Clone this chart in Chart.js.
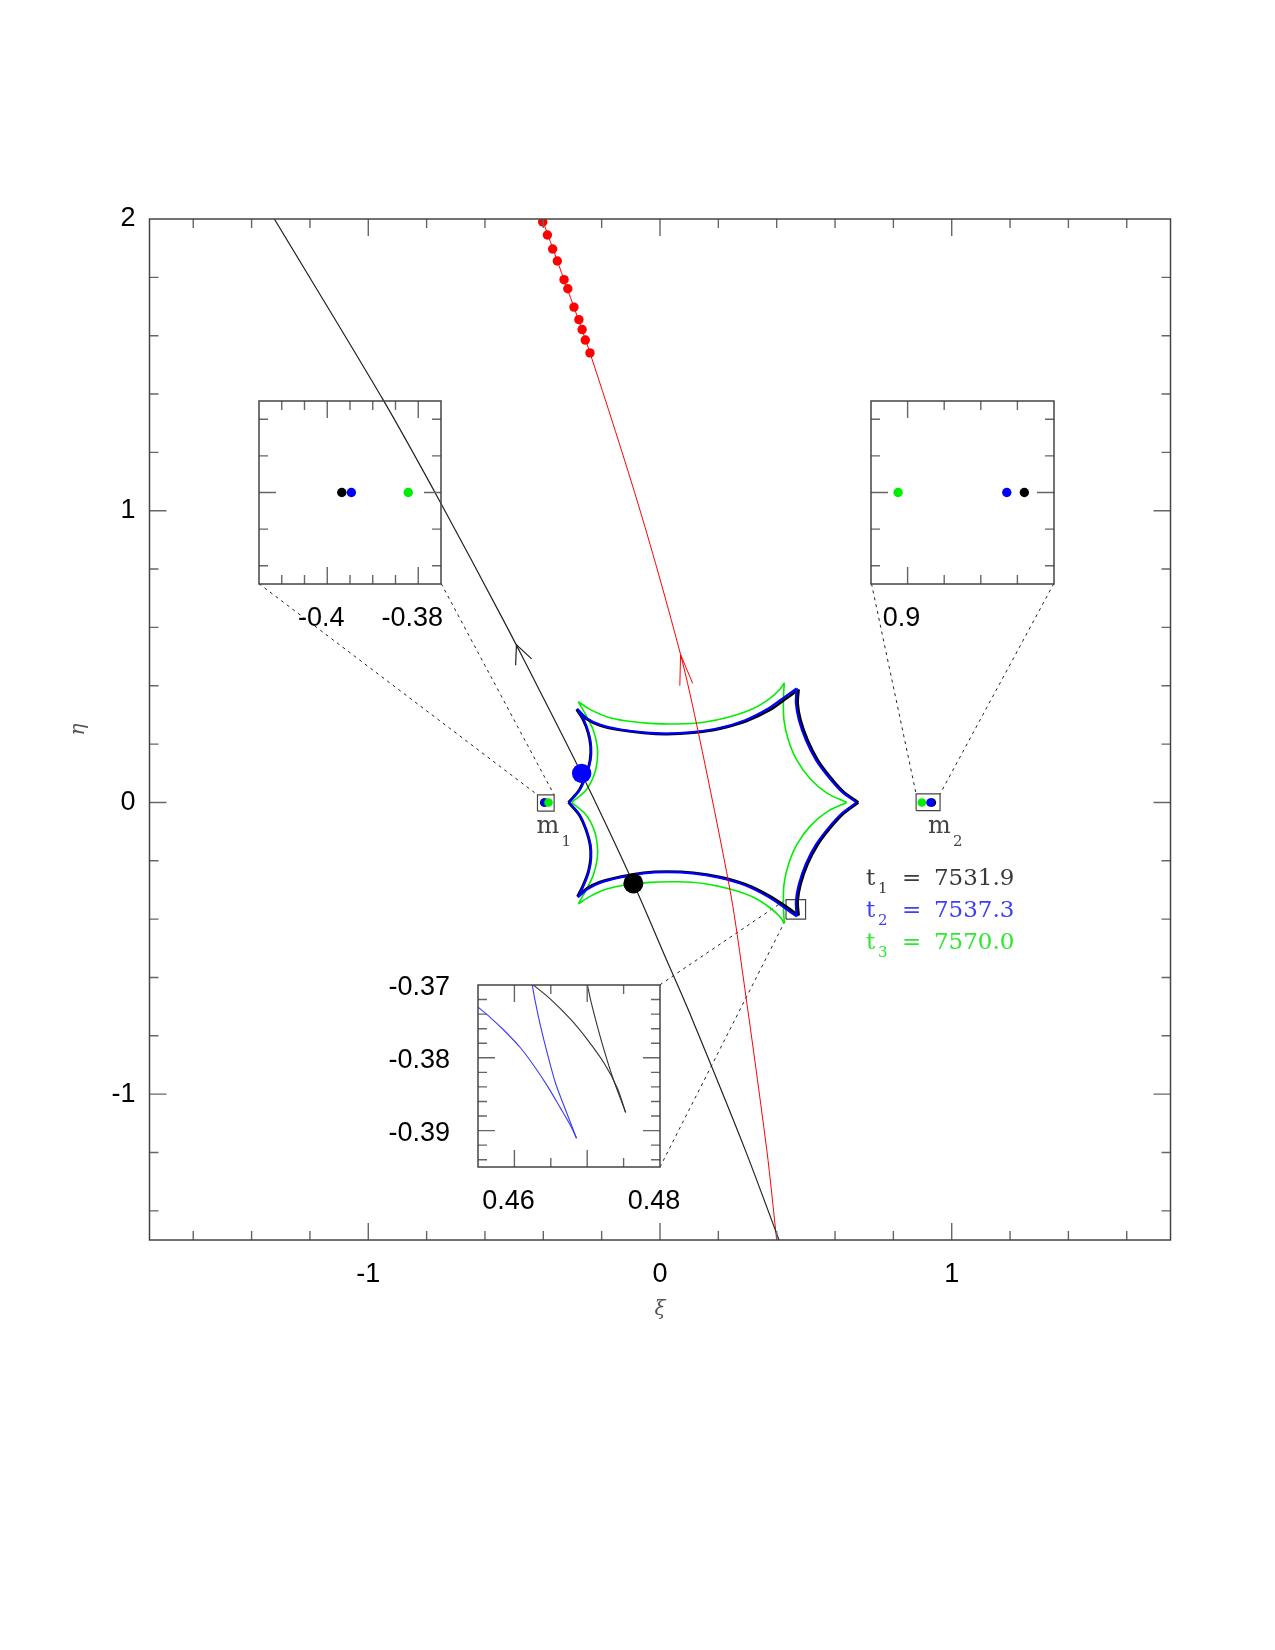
<!DOCTYPE html>
<html><head><meta charset="utf-8">
<script src="https://cdn.jsdelivr.net/npm/chart.js@4.4.0/dist/chart.umd.min.js"></script>
<style>
html,body{margin:0;padding:0;background:#fff;}
#wrap{position:relative;width:1275px;height:1650px;overflow:hidden;}
#main{position:absolute;left:0;top:0;}
</style></head><body>
<div id="wrap"><canvas id="main" width="1275" height="1650"></canvas></div>
<script>
// ---------------- DATA ----------------
// main axes
const mainXRange = [-1.75, 1.75];
const mainYRange = [-1.5, 2];
const mainXLabelVals = [-1, 0, 1];
const mainXLabels = ['-1', '0', '1'];
const mainYLabelVals = [-1, 0, 1, 2];
const mainYLabels = ['-1', '0', '1', '2'];
const mainXMajor = [-1, 0, 1];
const mainXMinor = [-1.6,-1.4,-1.2,-0.8,-0.6,-0.4,-0.2,0.2,0.4,0.6,0.8,1.2,1.4,1.6];
const mainYMajor = [-1, 0, 1];
const mainYMinor = [-1.4,-1.2,-0.8,-0.6,-0.4,-0.2,0.2,0.4,0.6,0.8,1.2,1.4,1.6,1.8];

// source trajectories
const trajBlackX = [-1.322, -0.949, -0.754, -0.537, -0.466, -0.269, -0.091, 0.023, 0.097, 0.292, 0.408];
const trajBlackY = [2.0, 1.380, 1.031, 0.625, 0.488, 0.099, -0.278, -0.541, -0.711, -1.191, -1.5];
const trajRedX = [-0.404, -0.329, -0.240, -0.0686, 0.0705, 0.132, 0.240, 0.277, 0.366, 0.400];
const trajRedY = [2.0, 1.792, 1.541, 1.002, 0.507, 0.237, -0.300, -0.540, -1.191, -1.5];
const redDotX = [-0.402,-0.386,-0.368,-0.352,-0.329,-0.316,-0.295,-0.278,-0.267,-0.256,-0.240];
const redDotY = [1.990,1.945,1.897,1.856,1.792,1.761,1.698,1.655,1.621,1.585,1.541];
// arrow heads (wing, tip, wing)
const blackArrowX = [-0.495, -0.492, -0.440];
const blackArrowY = [0.470, 0.540, 0.492];
const redArrowX = [0.068, 0.0705, 0.112];
const redArrowY = [0.400, 0.507, 0.408];
// big source dots
const bigDotBlue = [-0.2686, 0.0994];
const bigDotBlack = [-0.0914, -0.2777];

// lens positions (t1 black, t2 blue, t3 green)
const m1X = [-0.3968, -0.3947, -0.3822];
const m2X = [0.9319, 0.9271, 0.8974];
const lensColors = ['#000000', '#0000ff', '#00ee00'];

// caustics: folds separated by null
const causticBlack = [
 [-0.286,0.319],[-0.251,0.285],[-0.206,0.264],[-0.137,0.248],[-0.057,0.238],[0.023,0.234],[0.114,0.239],[0.206,0.253],[0.297,0.279],[0.377,0.317],[0.434,0.357],[0.4753,0.3875], null,
 [0.4753,0.3875],[0.472,0.340],[0.482,0.282],[0.506,0.214],[0.541,0.145],[0.583,0.088],[0.629,0.037],[0.680,0.0], null,
 [0.680,0.0],[0.629,-0.038],[0.583,-0.088],[0.541,-0.144],[0.506,-0.211],[0.482,-0.280],[0.472,-0.338],[0.4753,-0.3875], null,
 [0.4753,-0.3875],[0.434,-0.358],[0.377,-0.321],[0.297,-0.282],[0.206,-0.256],[0.114,-0.241],[0.023,-0.237],[-0.057,-0.241],[-0.137,-0.255],[-0.206,-0.273],[-0.249,-0.294],[-0.283,-0.323], null,
 [-0.283,-0.323],[-0.263,-0.282],[-0.246,-0.237],[-0.238,-0.191],[-0.240,-0.145],[-0.254,-0.094],[-0.277,-0.043],[-0.314,0.0], null,
 [-0.314,0.0],[-0.277,0.043],[-0.254,0.094],[-0.240,0.145],[-0.238,0.191],[-0.246,0.237],[-0.263,0.282],[-0.286,0.319]
];
const causticBlue = [
 [-0.284,0.321],[-0.249,0.287],[-0.204,0.266],[-0.136,0.250],[-0.057,0.240],[0.022,0.236],[0.112,0.241],[0.203,0.255],[0.292,0.282],[0.370,0.321],[0.428,0.362],[0.4685,0.3911], null,
 [0.4685,0.3911],[0.466,0.340],[0.476,0.283],[0.500,0.214],[0.535,0.145],[0.577,0.088],[0.623,0.037],[0.674,0.0], null,
 [0.674,0.0],[0.623,-0.038],[0.577,-0.088],[0.535,-0.144],[0.500,-0.211],[0.476,-0.281],[0.466,-0.338],[0.4685,-0.3911], null,
 [0.4685,-0.3911],[0.428,-0.362],[0.370,-0.323],[0.292,-0.284],[0.203,-0.258],[0.112,-0.243],[0.022,-0.239],[-0.057,-0.243],[-0.136,-0.257],[-0.204,-0.275],[-0.247,-0.296],[-0.281,-0.325], null,
 [-0.281,-0.325],[-0.261,-0.283],[-0.244,-0.238],[-0.236,-0.191],[-0.238,-0.145],[-0.252,-0.094],[-0.275,-0.043],[-0.311,0.0], null,
 [-0.311,0.0],[-0.275,0.043],[-0.252,0.094],[-0.238,0.145],[-0.236,0.191],[-0.244,0.237],[-0.261,0.283],[-0.284,0.321]
];
const causticGreen = [
 [-0.280,0.345],[-0.240,0.319],[-0.183,0.294],[-0.114,0.279],[-0.034,0.271],[0.057,0.269],[0.149,0.275],[0.240,0.294],[0.320,0.322],[0.377,0.357],[0.411,0.388],[0.426,0.410], null,
 [0.426,0.410],[0.423,0.351],[0.425,0.282],[0.440,0.214],[0.469,0.145],[0.514,0.082],[0.571,0.033],[0.640,0.0], null,
 [0.640,0.0],[0.571,-0.033],[0.514,-0.082],[0.469,-0.145],[0.440,-0.214],[0.425,-0.282],[0.423,-0.351],[0.426,-0.415], null,
 [0.426,-0.415],[0.411,-0.392],[0.377,-0.361],[0.320,-0.325],[0.240,-0.297],[0.149,-0.278],[0.057,-0.272],[-0.034,-0.274],[-0.114,-0.282],[-0.183,-0.297],[-0.240,-0.322],[-0.280,-0.348], null,
 [-0.280,-0.348],[-0.257,-0.307],[-0.229,-0.250],[-0.215,-0.191],[-0.215,-0.145],[-0.226,-0.094],[-0.254,-0.042],[-0.303,0.0], null,
 [-0.303,0.0],[-0.254,0.042],[-0.226,0.094],[-0.215,0.145],[-0.215,0.191],[-0.229,0.248],[-0.257,0.305],[-0.280,0.345]
];

// small boxes on the main plot [x0, x1, y0, y1]
const boxM1 = [-0.420, -0.363, -0.030, 0.026];
const boxM2 = [0.878, 0.960, -0.028, 0.029];
const boxCusp = [0.432, 0.499, -0.400, -0.333];
// inset frames in main-plot coordinates [x0, x1, y0, y1]
const inset1Box = [-1.375, -0.75, 0.75, 1.375];
const inset2Box = [0.725, 1.35, 0.75, 1.375];
const inset3Box = [-0.625, 0.0, -1.25, -0.625];

// inset 1 (around m1)
const in1XRange = [-0.415, -0.375];
const in1YRange = [-0.025, 0.025];
const in1XLabelVals = [-0.4, -0.38];
const in1XLabels = ['-0.4', '-0.38'];
const in1XMajor = [-0.4, -0.38];
const in1XMinor = [-0.41, -0.405, -0.395, -0.39, -0.385];
const in1YMajor = [0];
const in1YMinor = [-0.02, -0.01, 0.01, 0.02];
// inset 2 (around m2)
const in2XRange = [0.89, 0.94];
const in2YRange = [-0.025, 0.025];
const in2XLabelVals = [0.9];
const in2XLabels = ['0.9'];
const in2XMajor = [0.9];
const in2XMinor = [0.91, 0.92, 0.93];
const in2YMajor = [0];
const in2YMinor = [-0.02, -0.01, 0.01, 0.02];
// inset 3 (caustic cusp)
const in3XRange = [0.455, 0.48];
const in3YRange = [-0.395, -0.37];
const in3XLabelVals = [0.46, 0.48];
const in3XLabels = ['0.46', '0.48'];
const in3YLabelVals = [-0.37, -0.38, -0.39];
const in3YLabels = ['-0.37', '-0.38', '-0.39'];
const in3XMajor = [0.46, 0.47];
const in3XMinor = [0.465, 0.475];
const in3YMajor = [-0.38, -0.39];
const in3YMinor = [-0.394,-0.392,-0.388,-0.386,-0.384,-0.382,-0.378,-0.376,-0.374,-0.372];
const in3BlueA = [[0.45495,-0.37300],[0.45670,-0.37447],[0.45853,-0.37618],[0.46083,-0.37862],[0.46266,-0.38106],[0.46450,-0.38382],[0.46633,-0.38691],[0.46771,-0.38931],[0.46853,-0.39106]];
const in3BlueB = [[0.46243,-0.36986],[0.46289,-0.37240],[0.46358,-0.37562],[0.46450,-0.37931],[0.46564,-0.38346],[0.46702,-0.38714],[0.46853,-0.39106]];
const in3BlackA = [[0.46243,-0.36986],[0.46495,-0.37194],[0.46771,-0.37470],[0.47000,-0.37747],[0.47229,-0.38069],[0.47413,-0.38415],[0.47528,-0.38751]];
const in3BlackB = [[0.47000,-0.36986],[0.47055,-0.37240],[0.47138,-0.37562],[0.47229,-0.37885],[0.47344,-0.38253],[0.47528,-0.38751]];

// legend text
const legendSubs = ['1', '2', '3'];
const legendValues = ['7531.9', '7537.3', '7570.0'];
const legendColors = ['#3a3a3a', '#3d3dff', '#30e830'];
const legendAnchor = [0.706, -0.283];
const m1Anchor = [-0.423, -0.104];
const m2Anchor = [0.919, -0.104];

// ---------------- helpers ----------------
const pts = arr => arr.map(p => p ? {x: p[0], y: p[1]} : {x: null, y: null});
const zip = (xs, ys) => xs.map((x, i) => ({x, y: ys[i]}));
const boxPts = b => [{x:b[0],y:b[2]},{x:b[1],y:b[2]},{x:b[1],y:b[3]},{x:b[0],y:b[3]},{x:b[0],y:b[2]}];
const seg = (a, b) => [{x:a[0],y:a[1]},{x:b[0],y:b[1]},{x:null,y:null}];

function line(data, color, width, order, extra) {
  return Object.assign({data, showLine: true, borderColor: color, borderWidth: width,
    pointRadius: 0, pointHoverRadius: 0, fill: false, tension: 0, order}, extra || {});
}
function dots(data, color, r, order) {
  return {data, showLine: false, pointRadius: r, pointHoverRadius: r, pointBackgroundColor: color,
    pointBorderWidth: 0, borderColor: color, backgroundColor: color, order};
}

function frameTicksPlugin(spec) {
  return {
    id: 'frameTicks',
    afterDatasetsDraw(chart) {
      const {ctx, chartArea: a, scales} = chart;
      const sx = scales.x, sy = scales.y;
      ctx.save();
      ctx.lineWidth = 1.4; ctx.strokeStyle = '#666';
      ctx.beginPath();
      const xt = (vals, len) => vals.forEach(v => { const p = sx.getPixelForValue(v);
        ctx.moveTo(p, a.bottom); ctx.lineTo(p, a.bottom - len); ctx.moveTo(p, a.top); ctx.lineTo(p, a.top + len); });
      const yt = (vals, len) => vals.forEach(v => { const p = sy.getPixelForValue(v);
        ctx.moveTo(a.left, p); ctx.lineTo(a.left + len, p); ctx.moveTo(a.right, p); ctx.lineTo(a.right - len, p); });
      xt(spec.xMinor, 9); xt(spec.xMajor, 17); yt(spec.yMinor, 9); yt(spec.yMajor, 17);
      ctx.stroke();
      ctx.lineWidth = 1.5; ctx.strokeStyle = '#444';
      ctx.strokeRect(a.left, a.top, a.right - a.left, a.bottom - a.top);
      ctx.restore();
    }
  };
}

const textPlugin = {
  id: 'textLabels',
  afterDatasetsDraw(chart) {
    const {ctx, scales: {x, y}} = chart;
    const serif = '"DejaVu Serif", serif';
    const put = (txt, px, py, size, color) => {
      ctx.font = size + 'px ' + serif; ctx.fillStyle = color;
      ctx.textAlign = 'left'; ctx.textBaseline = 'alphabetic';
      ctx.fillText(txt, px, py);
    };
    ctx.save();
    const lx = x.getPixelForValue(legendAnchor[0]), ly = y.getPixelForValue(legendAnchor[1]);
    legendValues.forEach((v, i) => {
      const py = ly + i * 32.2, c = legendColors[i];
      put('t', lx, py, 23, c);
      put(legendSubs[i], lx + 12, py + 8, 15, c);
      put('=', lx + 36, py, 23, c);
      put(v, lx + 68, py, 23, c);
    });
    [[m1Anchor, '1'], [m2Anchor, '2']].forEach(([a, s]) => {
      const px = x.getPixelForValue(a[0]), py = y.getPixelForValue(a[1]);
      put('m', px, py, 24, '#444');
      put(s, px + 25, py + 13, 15, '#444');
    });
    ctx.restore();
  }
};

const tickFont = {family: '"Liberation Sans", Arial, sans-serif', size: 27};

// ---------------- main chart ----------------
const mainDatasets = [
  dots([{x: bigDotBlack[0], y: bigDotBlack[1]}], '#000', 10, 0),
  dots([{x: bigDotBlue[0], y: bigDotBlue[1]}], '#0000ff', 9.7, 0),
  dots([{x: m1X[2], y: 0}, {x: m2X[2], y: 0}], lensColors[2], 4.3, 1),
  dots([{x: m1X[1], y: 0}, {x: m2X[1], y: 0}], lensColors[1], 4.3, 2),
  dots([{x: m1X[0], y: 0}, {x: m2X[0], y: 0}], lensColors[0], 4.3, 3),
  dots(zip(redDotX, redDotY), '#ff0000', 4.7, 4),
  line(zip(blackArrowX, blackArrowY), '#222', 1.2, 5),
  line(zip(redArrowX, redArrowY), '#ff0000', 1.0, 5),
  line(zip(trajBlackX, trajBlackY), '#222', 1.2, 6, {tension: 0.3}),
  line(zip(trajRedX, trajRedY), '#ff0000', 1.0, 6, {tension: 0.3}),
  line(pts(causticBlue), '#0000ff', 2.2, 7, {tension: 0.3, spanGaps: false}),
  line(pts(causticBlack), '#000', 2.6, 8, {tension: 0.3, spanGaps: false}),
  line(pts(causticGreen), '#00ee00', 1.6, 9, {tension: 0.3, spanGaps: false}),
  line([].concat(
      seg([inset1Box[0], inset1Box[2]], [boxM1[0], boxM1[3]]),
      seg([inset1Box[1], inset1Box[2]], [boxM1[1], boxM1[3]]),
      seg([inset2Box[0], inset2Box[2]], [boxM2[0], boxM2[3]]),
      seg([inset2Box[1], inset2Box[2]], [boxM2[1], boxM2[3]]),
      seg([inset3Box[1], inset3Box[3]], [boxCusp[0], boxCusp[3]]),
      seg([inset3Box[1], inset3Box[2]], [boxCusp[0], boxCusp[2]])
    ), '#222', 1, 10, {borderDash: [3, 4], spanGaps: false}),
  line(boxPts(boxM1), '#444', 1.2, 10),
  line(boxPts(boxM2), '#444', 1.2, 10),
  line(boxPts(boxCusp), '#444', 1.2, 10)
];

const chart = new Chart(document.getElementById('main'), {
  type: 'scatter',
  data: {datasets: mainDatasets},
  options: {
    responsive: false, animation: false, devicePixelRatio: 1, events: [],
    layout: {padding: {left: 0, top: 219, right: 104.5, bottom: 310}},
    plugins: {legend: {display: false}, tooltip: {enabled: false}},
    scales: {
      x: {
        type: 'linear', min: mainXRange[0], max: mainXRange[1],
        afterFit: s => { s.height = 100; },
        afterBuildTicks: s => { s.ticks = mainXLabelVals.map(v => ({value: v})); },
        ticks: {autoSkip: false, maxRotation: 0, padding: 18, font: tickFont, color: '#000',
                callback: (v, i) => mainXLabels[i]},
        grid: {display: false, drawTicks: false}, border: {display: false},
        title: {display: true, text: 'ξ', color: '#555', padding: {top: 0, bottom: 18},
                font: {family: '"DejaVu Serif", serif', style: 'italic', size: 20}}
      },
      y: {
        type: 'linear', min: mainYRange[0], max: mainYRange[1],
        afterFit: s => { s.width = 149.5; },
        afterBuildTicks: s => { s.ticks = mainYLabelVals.map(v => ({value: v})); },
        ticks: {autoSkip: false, padding: 14, font: tickFont, color: '#000',
                callback: (v, i) => mainYLabels[i]},
        grid: {display: false, drawTicks: false}, border: {display: false},
        title: {display: true, text: 'η', color: '#555', padding: {top: 67, bottom: 0},
                font: {family: '"DejaVu Serif", serif', style: 'italic', size: 20}}
      }
    }
  },
  plugins: [frameTicksPlugin({xMinor: mainXMinor, xMajor: mainXMajor, yMinor: mainYMinor, yMajor: mainYMajor}), textPlugin]
});

// ---------------- insets ----------------
const wrap = document.getElementById('wrap');
function makeInset(spec) {
  const sx = chart.scales.x, sy = chart.scales.y;
  const L = Math.round(sx.getPixelForValue(spec.box[0]));
  const R = Math.round(sx.getPixelForValue(spec.box[1]));
  const T = Math.round(sy.getPixelForValue(spec.box[3]));
  const B = Math.round(sy.getPixelForValue(spec.box[2]));
  const p = spec.pad;
  const W = R - L + p.l + p.r, H = B - T + p.t + p.b;
  const cv = document.createElement('canvas');
  cv.width = W; cv.height = H;
  cv.style.position = 'absolute';
  cv.style.left = (L - p.l) + 'px'; cv.style.top = (T - p.t) + 'px';
  cv.style.width = W + 'px'; cv.style.height = H + 'px';
  wrap.appendChild(cv);
  const yl = spec.yLabVals || [], ylt = spec.yLabels || [];
  new Chart(cv, {
    type: 'scatter',
    data: {datasets: spec.datasets},
    options: {
      responsive: false, animation: false, devicePixelRatio: 1, events: [],
      layout: {padding: {left: 0, top: p.t, right: p.r, bottom: 0}},
      plugins: {legend: {display: false}, tooltip: {enabled: false}},
      scales: {
        x: {type: 'linear', min: spec.xr[0], max: spec.xr[1],
            afterFit: s => { s.height = p.b; },
            afterBuildTicks: s => { s.ticks = spec.xLabVals.map(v => ({value: v})); },
            ticks: {autoSkip: false, maxRotation: 0, padding: spec.xPad, labelOffset: -6, font: tickFont, color: '#000',
                    callback: (v, i) => spec.xLabels[i]},
            grid: {display: false, drawTicks: false}, border: {display: false}},
        y: {type: 'linear', min: spec.yr[0], max: spec.yr[1],
            afterFit: s => { s.width = p.l; },
            afterBuildTicks: s => { s.ticks = yl.map(v => ({value: v})); },
            ticks: {display: yl.length > 0, autoSkip: false, padding: spec.yPad || 10, labelOffset: 3, font: tickFont, color: '#000',
                    callback: (v, i) => ylt[i]},
            grid: {display: false, drawTicks: false}, border: {display: false}}
      }
    },
    plugins: [frameTicksPlugin(spec.ticks)]
  });
}

makeInset({
  box: inset1Box, xr: in1XRange, yr: in1YRange, pad: {l: 10, r: 70, t: 60, b: 70},
  xLabVals: in1XLabelVals, xLabels: in1XLabels, xPad: 18,
  ticks: {xMinor: in1XMinor, xMajor: in1XMajor, yMinor: in1YMinor, yMajor: in1YMajor},
  datasets: [
    dots([{x: m1X[2], y: 0}], lensColors[2], 4.7, 0),
    dots([{x: m1X[1], y: 0}], lensColors[1], 4.7, 1),
    dots([{x: m1X[0], y: 0}], lensColors[0], 4.7, 2)
  ]
});
makeInset({
  box: inset2Box, xr: in2XRange, yr: in2YRange, pad: {l: 10, r: 70, t: 60, b: 70},
  xLabVals: in2XLabelVals, xLabels: in2XLabels, xPad: 18,
  ticks: {xMinor: in2XMinor, xMajor: in2XMajor, yMinor: in2YMinor, yMajor: in2YMajor},
  datasets: [
    dots([{x: m2X[1], y: 0}], lensColors[1], 4.7, 0),
    dots([{x: m2X[2], y: 0}], lensColors[2], 4.7, 1),
    dots([{x: m2X[0], y: 0}], lensColors[0], 4.7, 2)
  ]
});
makeInset({
  box: inset3Box, xr: in3XRange, yr: in3YRange, pad: {l: 130, r: 70, t: 60, b: 70},
  xLabVals: in3XLabelVals, xLabels: in3XLabels, xPad: 18,
  yLabVals: in3YLabelVals, yLabels: in3YLabels, yPad: 28,
  ticks: {xMinor: in3XMinor, xMajor: in3XMajor, yMinor: in3YMinor, yMajor: in3YMajor},
  datasets: [
    line(pts(in3BlueA), '#3a3aff', 1.1, 0, {tension: 0.3}),
    line(pts(in3BlueB), '#3a3aff', 1.1, 0, {tension: 0.3}),
    line(pts(in3BlackA), '#333', 1.1, 1, {tension: 0.3}),
    line(pts(in3BlackB), '#333', 1.1, 1, {tension: 0.3})
  ]
});
</script>
</body></html>
